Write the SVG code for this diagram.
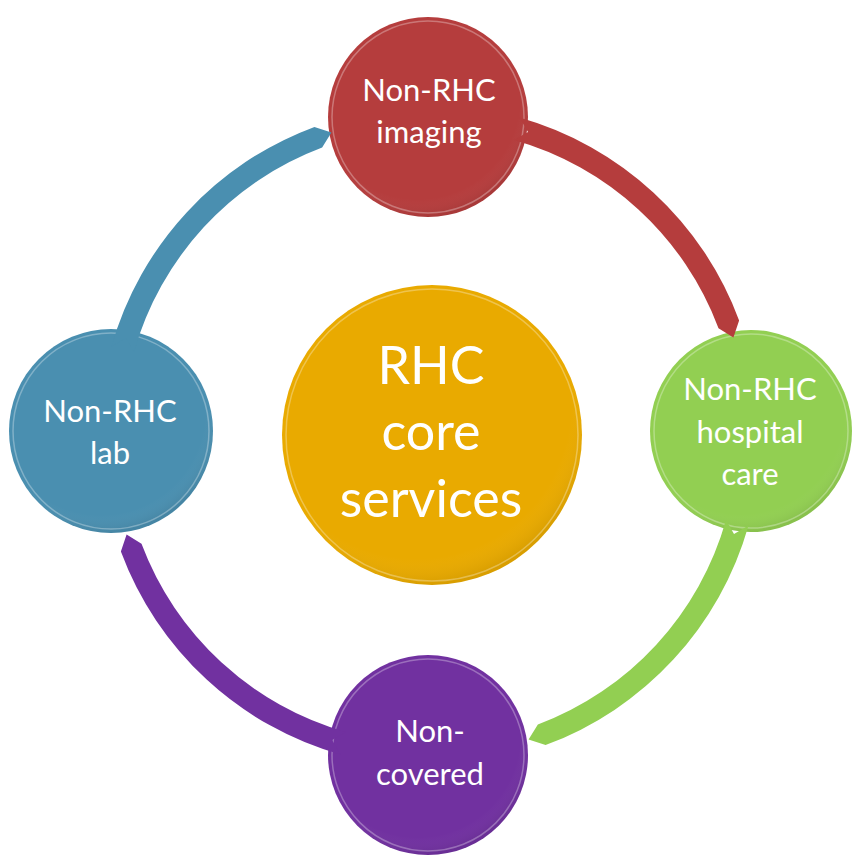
<svg xmlns="http://www.w3.org/2000/svg" width="855" height="855" viewBox="0 0 855 855">
  <style>
    .lbl { font-family: Lato, "Open Sans", "Liberation Sans", sans-serif; fill: #ffffff; text-anchor: middle; }
    .node { font-size: 31px; }
    .core { font-size: 52px; }
    .rim { fill: none; stroke: #ffffff; stroke-opacity: 0.3; stroke-width: 1.5; }
  </style>
  <defs>
    <path id="arc" d="M 519.5 117.5 A 330 330 0 0 1 739.11 320.43 L 733.40 337.43 L 718.50 328.14 A 308 308 0 0 0 514.0 140.0 L 528.0 132.0 Z"/>
    <radialGradient id="shade" cx="0.45" cy="0.4" r="0.6">
      <stop offset="0.85" stop-color="#ffffff" stop-opacity="0"/>
      <stop offset="1" stop-color="#000000" stop-opacity="0.07"/>
    </radialGradient>
  </defs>
  <rect width="855" height="855" fill="#ffffff"/>

  <g id="center">
    <circle cx="432" cy="435" r="150" fill="#E9AA00"/>
    <circle cx="432" cy="435" r="150" fill="url(#shade)"/>
    <circle cx="432" cy="435" r="146" class="rim"/>
    <text class="lbl core" x="431" y="384">RHC</text>
    <text class="lbl core" x="431" y="450">core</text>
    <text class="lbl core" x="431" y="517">services</text>
  </g>

  <g id="node-imaging">
    <circle cx="428" cy="117" r="100" fill="#B53D3D"/>
    <circle cx="428" cy="117" r="100" fill="url(#shade)"/>
    <circle cx="428" cy="117" r="96" class="rim"/>
    <text class="lbl node" x="429" y="101">Non-RHC</text>
    <text class="lbl node" x="429" y="143">imaging</text>
  </g>

  <g id="node-hospital">
    <circle cx="751" cy="431" r="101" fill="#92CF52"/>
    <circle cx="751" cy="431" r="101" fill="url(#shade)"/>
    <circle cx="751" cy="431" r="97" class="rim"/>
    <text class="lbl node" x="750" y="400">Non-RHC</text>
    <text class="lbl node" x="750" y="443">hospital</text>
    <text class="lbl node" x="750" y="485">care</text>
  </g>

  <g id="node-noncovered">
    <circle cx="428" cy="755" r="100" fill="#7131A0"/>
    <circle cx="428" cy="755" r="100" fill="url(#shade)"/>
    <circle cx="428" cy="755" r="96" class="rim"/>
    <text class="lbl node" x="430" y="742">Non-</text>
    <text class="lbl node" x="430" y="785">covered</text>
  </g>

  <g id="node-lab">
    <circle cx="111" cy="431" r="102" fill="#4A8FB0"/>
    <circle cx="111" cy="431" r="102" fill="url(#shade)"/>
    <circle cx="111" cy="431" r="98" class="rim"/>
    <text class="lbl node" x="110" y="422">Non-RHC</text>
    <text class="lbl node" x="110" y="464">lab</text>
  </g>

  <g id="connectors">
    <use href="#arc" fill="#B53D3D"/>
    <use href="#arc" fill="#92CF52" transform="rotate(90 430 436)"/>
    <use href="#arc" fill="#7131A0" transform="rotate(180 430 436)"/>
    <use href="#arc" fill="#4A8FB0" transform="rotate(270 430 436)"/>
  </g>
</svg>
